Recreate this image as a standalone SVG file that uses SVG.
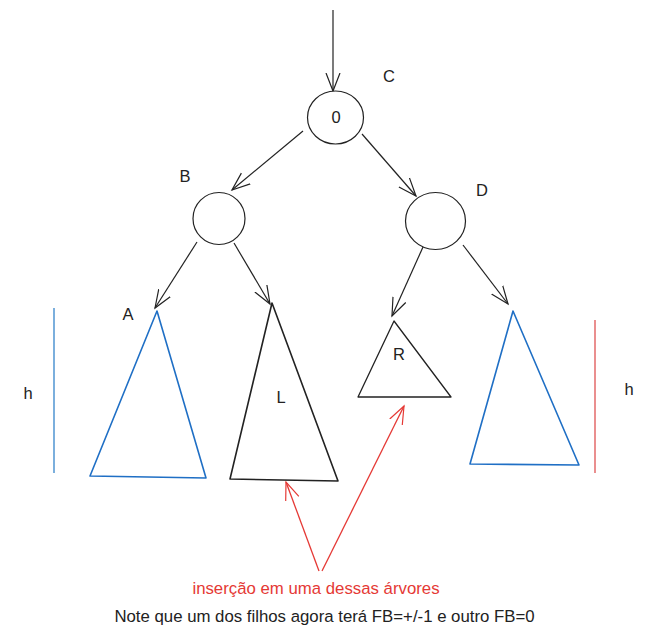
<svg xmlns="http://www.w3.org/2000/svg" width="658" height="642" viewBox="0 0 658 642">
<defs>
<marker id="ah" viewBox="0 0 20 20" refX="18" refY="10" markerWidth="20" markerHeight="20" markerUnits="userSpaceOnUse" orient="auto">
<path d="M0,3 L18,10 L0,17" fill="none" stroke="#222" stroke-width="1.2"/>
</marker>
<marker id="ahr" viewBox="0 0 20 20" refX="18" refY="10" markerWidth="20" markerHeight="20" markerUnits="userSpaceOnUse" orient="auto">
<path d="M0,3 L18,10 L0,17" fill="none" stroke="#e53935" stroke-width="1.2"/>
</marker>
</defs>
<style>
.n{fill:#fff;stroke:#222;stroke-width:1.2}
.t{font-family:"Liberation Sans",Arial,sans-serif;font-size:16.5px;fill:#222}
.c{stroke:#222;stroke-width:1.2;fill:none;marker-end:url(#ah)}
.r{stroke:#e53935;stroke-width:1.3;fill:none;marker-end:url(#ahr)}
.tb{fill:none;stroke:#1f6fc5;stroke-width:1.6;stroke-linejoin:round}
.tk{fill:none;stroke:#222;stroke-width:1.6;stroke-linejoin:round}
</style>
<rect width="658" height="642" fill="#fff"/>
<g id="connectors">
<line class="c" x1="333" y1="10" x2="333" y2="91"/>
<line class="c" x1="303" y1="131" x2="232" y2="190"/>
<line class="c" x1="362" y1="134" x2="416" y2="196"/>
<line class="c" x1="197" y1="242" x2="155" y2="308"/>
<line class="c" x1="234" y1="243" x2="270" y2="304"/>
<line class="c" x1="423" y1="247" x2="392" y2="316"/>
<line class="c" x1="463" y1="245" x2="508" y2="304"/>
<line class="r" x1="319" y1="571" x2="286" y2="482"/>
<line class="r" x1="322" y1="571" x2="404" y2="406"/>
</g>
<g id="C">
<ellipse class="n" cx="335.5" cy="117.5" rx="28" ry="26.5"/>
<text class="t" x="336" y="123" text-anchor="middle" font-size="15">0</text>
<text class="t" x="389" y="82" text-anchor="middle">C</text>
</g>
<g id="B">
<ellipse class="n" cx="219" cy="218.5" rx="26" ry="26"/>
<text class="t" x="185" y="182" text-anchor="middle">B</text>
</g>
<g id="D">
<ellipse class="n" cx="435.5" cy="221" rx="30" ry="28.5"/>
<text class="t" x="482" y="196" text-anchor="middle">D</text>
</g>
<g id="A">
<polygon class="tb" points="157,311 90,476 206,478"/>
<text class="t" x="128" y="320" text-anchor="middle">A</text>
</g>
<g id="L">
<polygon class="tk" points="272,303 230,479 338,481"/>
<text class="t" x="281" y="403" text-anchor="middle">L</text>
</g>
<g id="R">
<polygon class="tk" points="394,321 358,397 451,397" style="stroke-width:1.3"/>
<text class="t" x="399" y="360" text-anchor="middle">R</text>
</g>
<g id="RightTree">
<polygon class="tb" points="513,311 470,464 579,465"/>
</g>
<g id="hLeft">
<line x1="54" y1="308" x2="54" y2="473" stroke="#5b9bd5" stroke-width="1.6"/>
<text class="t" x="28" y="399" text-anchor="middle">h</text>
</g>
<g id="hRight">
<line x1="595" y1="320" x2="595" y2="473" stroke="#e57373" stroke-width="1.6"/>
<text class="t" x="629" y="395" text-anchor="middle">h</text>
</g>
<text class="t" x="316" y="594" text-anchor="middle" style="fill:#e53935;font-size:16.8px">inserção em uma dessas árvores</text>
<text class="t" x="324.5" y="622" text-anchor="middle" style="font-size:16.8px">Note que um dos filhos agora terá FB=+/-1 e outro FB=0</text>
</svg>
